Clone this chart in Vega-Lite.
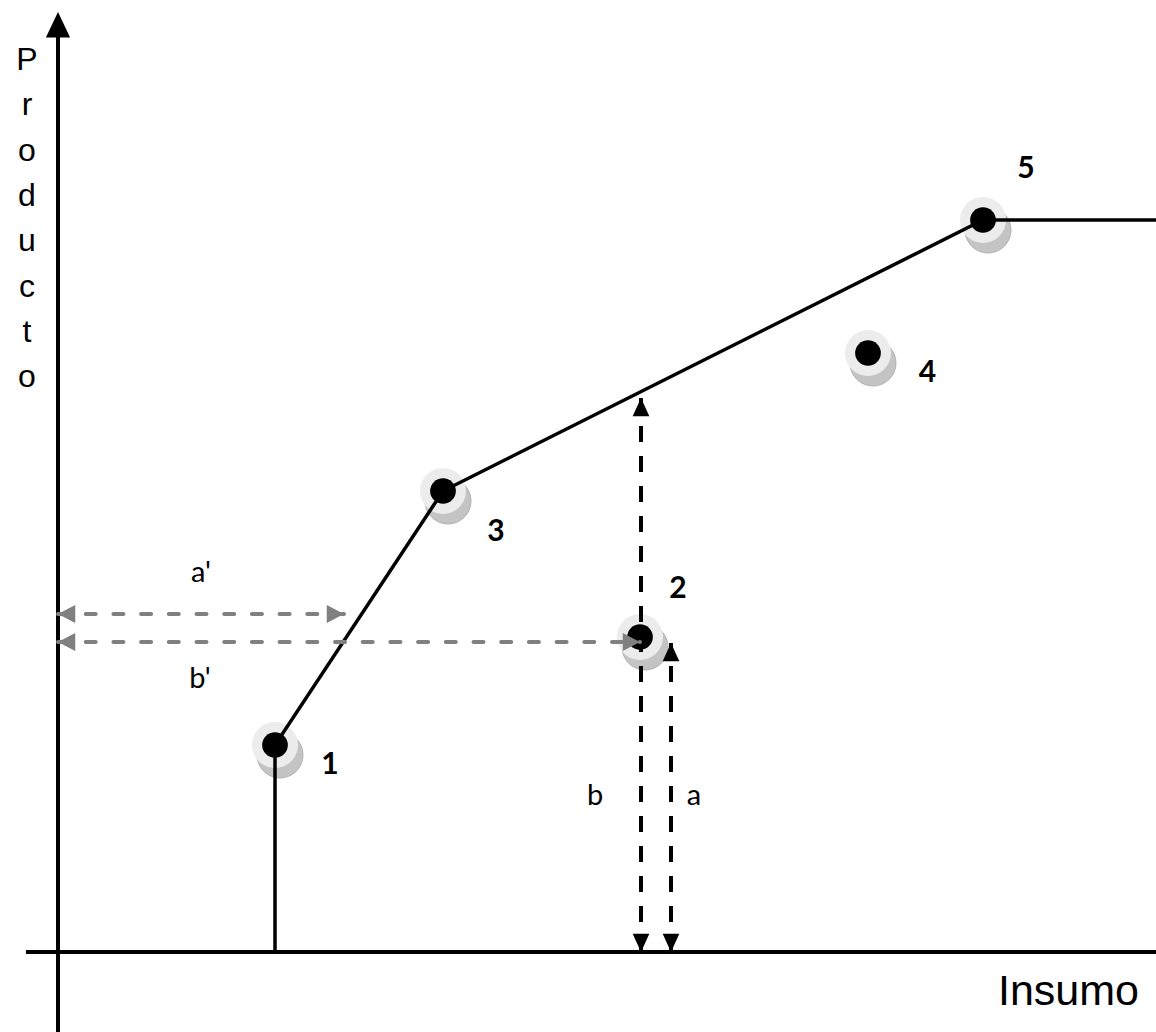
{
  "$schema": "https://vega.github.io/schema/vega-lite/v6.json",
  "width": 1156,
  "height": 1032,
  "autosize": {"type": "none"},
  "padding": 0,
  "background": "#ffffff",
  "config": {"view": {"stroke": null}},
  "datasets": {
    "axes": [
      {"id": "h", "seq": 1, "x": -3.2, "y": 0},
      {"id": "h", "seq": 2, "x": 110.5, "y": 0},
      {"id": "v", "seq": 1, "x": 0, "y": -9},
      {"id": "v", "seq": 2, "x": 0, "y": 93}
    ],
    "frontier": [
      {"seq": 1, "x": 21.7, "y": 0},
      {"seq": 2, "x": 21.7, "y": 20.7},
      {"seq": 3, "x": 38.5, "y": 46.1},
      {"seq": 4, "x": 92.5, "y": 73.2},
      {"seq": 5, "x": 110.5, "y": 73.2}
    ],
    "dmus": [
      {"dmu": "1", "x": 21.7, "y": 20.7},
      {"dmu": "2", "x": 58.2, "y": 31.5},
      {"dmu": "3", "x": 38.5, "y": 46.1},
      {"dmu": "4", "x": 81.0, "y": 59.9},
      {"dmu": "5", "x": 92.5, "y": 73.2}
    ],
    "blackArrows": [
      {"id": "b", "seq": 1, "x": 58.3, "y": 0},
      {"id": "b", "seq": 2, "x": 58.3, "y": 55.4},
      {"id": "a", "seq": 1, "x": 61.3, "y": 0},
      {"id": "a", "seq": 2, "x": 61.3, "y": 30.9}
    ],
    "grayArrows": [
      {"id": "a'", "seq": 1, "x": 0, "y": 33.8},
      {"id": "a'", "seq": 2, "x": 28.6, "y": 33.8},
      {"id": "b'", "seq": 1, "x": 0, "y": 31.0},
      {"id": "b'", "seq": 2, "x": 58.2, "y": 31.0}
    ],
    "heads": [
      {"dir": "axis", "kind": "black", "x": 0, "y": 94.0},
      {"dir": "down", "kind": "black", "x": 58.3, "y": 0},
      {"dir": "up", "kind": "black", "x": 58.3, "y": 55.4},
      {"dir": "down", "kind": "black", "x": 61.3, "y": 0},
      {"dir": "up", "kind": "black", "x": 61.3, "y": 30.9},
      {"dir": "left", "kind": "gray", "x": 0, "y": 33.8},
      {"dir": "right", "kind": "gray", "x": 28.6, "y": 33.8},
      {"dir": "left", "kind": "gray", "x": 0, "y": 31.0},
      {"dir": "right", "kind": "gray", "x": 58.2, "y": 31.0}
    ],
    "numbers": [
      {"label": "1", "x": 27.2, "y": 17.8},
      {"label": "2", "x": 62.0, "y": 35.4},
      {"label": "3", "x": 43.8, "y": 41.1},
      {"label": "4", "x": 86.95, "y": 57.0},
      {"label": "5", "x": 96.8, "y": 77.4}
    ],
    "letters": [
      {"label": "a'", "x": 14.3, "y": 37.0},
      {"label": "b'", "x": 14.2, "y": 26.4},
      {"label": "b", "x": 53.7, "y": 14.7},
      {"label": "a", "x": 63.6, "y": 14.7}
    ],
    "titles": [
      {"label": "Insumo", "x": 108.1, "y": -5.3}
    ],
    "vtitle": [
      {"label": "P\nr\no\nd\nu\nc\nt\no", "x": -3.1, "y": 88.2}
    ]
  },
  "encoding": {
    "x": {"field": "x", "type": "quantitative", "scale": {"domain": [-5.8, 109.8], "nice": false, "zero": false}, "axis": null},
    "y": {"field": "y", "type": "quantitative", "scale": {"domain": [-8, 95.2], "nice": false, "zero": false}, "axis": null}
  },
  "layer": [
    {
      "data": {"name": "dmus"},
      "mark": {"type": "circle", "size": 2116, "color": "#c4c4c4", "opacity": 1, "xOffset": 5, "yOffset": 10, "stroke": "#b0b0b0", "strokeWidth": 1}
    },
    {
      "data": {"name": "dmus"},
      "mark": {"type": "circle", "size": 2116, "color": "#ececec", "opacity": 1}
    },
    {
      "data": {"name": "axes"},
      "mark": {"type": "line", "color": "#000000", "strokeWidth": 4},
      "encoding": {"detail": {"field": "id"}, "order": {"field": "seq"}}
    },
    {
      "data": {"name": "frontier"},
      "mark": {"type": "line", "color": "#000000", "strokeWidth": 3.5},
      "encoding": {"order": {"field": "seq"}}
    },
    {
      "data": {"name": "dmus"},
      "mark": {"type": "circle", "size": 660, "color": "#000000", "opacity": 1}
    },
    {
      "data": {"name": "blackArrows"},
      "mark": {"type": "line", "color": "#000000", "strokeWidth": 4, "strokeDash": [16, 14]},
      "encoding": {"detail": {"field": "id"}, "order": {"field": "seq"}}
    },
    {
      "data": {"name": "grayArrows"},
      "mark": {"type": "line", "color": "#808080", "strokeWidth": 4, "strokeDash": [10, 17.7], "strokeCap": "round"},
      "encoding": {"detail": {"field": "id"}, "order": {"field": "seq"}}
    },
    {
      "data": {"name": "heads"},
      "mark": {"type": "point", "filled": true, "size": 2900, "opacity": 1, "strokeWidth": 0},
      "encoding": {
        "shape": {"field": "dir", "type": "nominal", "legend": null,
          "scale": {"domain": ["axis", "up", "down", "left", "right"],
            "range": ["M0,0L0.45,0.95L-0.45,0.95Z", "M0,0L0.31,0.68L-0.31,0.68Z", "M0,0L0.31,-0.68L-0.31,-0.68Z", "M0,0L0.64,-0.33L0.64,0.33Z", "M0,0L-0.64,-0.33L-0.64,0.33Z"]}},
        "color": {"field": "kind", "type": "nominal", "legend": null,
          "scale": {"domain": ["black", "gray"], "range": ["#000000", "#808080"]}}
      }
    },
    {
      "data": {"name": "numbers"},
      "mark": {"type": "text", "font": "Lato", "fontWeight": "bold", "fontSize": 30, "align": "center", "baseline": "alphabetic", "color": "#000000"},
      "encoding": {"text": {"field": "label"}}
    },
    {
      "data": {"name": "letters"},
      "mark": {"type": "text", "font": "Lato", "fontSize": 29, "align": "center", "baseline": "alphabetic", "color": "#000000"},
      "encoding": {"text": {"field": "label"}}
    },
    {
      "data": {"name": "titles"},
      "mark": {"type": "text", "font": "Liberation Sans", "fontSize": 43, "align": "right", "baseline": "alphabetic", "color": "#000000"},
      "encoding": {"text": {"field": "label"}}
    },
    {
      "data": {"name": "vtitle"},
      "mark": {"type": "text", "font": "Liberation Sans", "fontSize": 32, "align": "center", "baseline": "alphabetic", "lineBreak": "\n", "lineHeight": 45.3, "color": "#000000"},
      "encoding": {"text": {"field": "label"}}
    }
  ]
}
